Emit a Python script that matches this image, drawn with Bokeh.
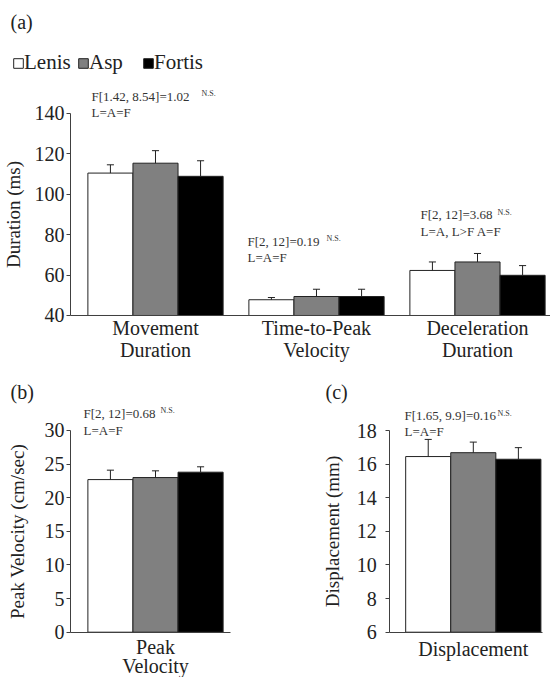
from bokeh.plotting import figure
from bokeh.layouts import column, row
from bokeh.models import Label, Legend, LegendItem, FixedTicker
from bokeh.embed import file_html
from bokeh.resources import INLINE

FONT = "Liberation Serif"
INK = "#222222"
ANN = "#333333"
AXIS = "#404040"

# ---------------- data ----------------
conditions = ["Lenis", "Asp", "Fortis"]
cond_colors = ["#ffffff", "#808080", "#000000"]

groups_a = ["Movement\nDuration", "Time-to-Peak\nVelocity", "Deceleration\nDuration"]
lenis_a = [110.5, 47.8, 62.3]
asp_a = [115.4, 49.4, 66.5]
fortis_a = [108.9, 49.4, 59.9]
lenis_a_err = [4.1, 1.1, 4.2]
asp_a_err = [6.2, 3.6, 4.2]
fortis_a_err = [7.7, 3.6, 4.8]
ticks_a = [40, 60, 80, 100, 120, 140]

groups_b = ["Peak\nVelocity"]
lenis_b = [22.7]
asp_b = [23.0]
fortis_b = [23.8]
lenis_b_err = [1.4]
asp_b_err = [1.0]
fortis_b_err = [0.8]
ticks_b = [0, 5, 10, 15, 20, 25, 30]

groups_c = ["Displacement"]
lenis_c = [16.45]
asp_c = [16.68]
fortis_c = [16.29]
lenis_c_err = [1.02]
asp_c_err = [0.63]
fortis_c_err = [0.69]
ticks_c = [6, 8, 10, 12, 14, 16, 18]

BAR_W = 0.28
OFFSETS = [-BAR_W, 0.0, BAR_W]
CAP = 0.022


def make_panel(width, height, xr, yr, axis_x, x_end, ticks, ylabel, groups, series, errs,
               ylabel_standoff=8, tick_standoff=2, cat_line_height=1.0, cat_standoff=0):
    p = figure(width=width, height=height, x_range=xr, y_range=yr,
               output_backend="svg", toolbar_location=None,
               min_border_left=0, min_border_right=0, min_border_top=0, min_border_bottom=0)
    p.title.visible = False
    p.outline_line_color = None
    p.grid.grid_line_color = None
    p.background_fill_color = "white"
    p.border_fill_color = "white"

    base = ticks[0]
    renderers = []
    for i, (vals, err) in enumerate(zip(series, errs)):
        xs = [g + OFFSETS[i] for g in range(len(groups))]
        r = p.vbar(x=xs, top=vals, bottom=base, width=BAR_W,
                   fill_color=cond_colors[i], line_color=INK, line_width=1)
        renderers.append(r)
        tops = [v + e for v, e in zip(vals, err)]
        p.segment(x0=xs, y0=vals, x1=xs, y1=tops, line_color=INK, line_width=1)
        p.segment(x0=[x - CAP for x in xs], y0=tops, x1=[x + CAP for x in xs], y1=tops,
                  line_color=INK, line_width=1)

    # y axis drawn at the left edge of the bar area
    ya = p.yaxis[0]
    ya.fixed_location = axis_x
    ya.bounds = (ticks[0], ticks[-1])
    ya.ticker = FixedTicker(ticks=ticks)
    ya.minor_tick_line_color = None
    ya.major_tick_in = 0
    ya.major_tick_out = 4
    ya.axis_line_color = AXIS
    ya.major_tick_line_color = AXIS
    ya.major_label_text_font = FONT
    ya.major_label_text_font_size = "20px"
    ya.major_label_text_color = INK
    ya.major_label_standoff = tick_standoff
    ya.axis_label = ylabel
    ya.axis_label_text_font = FONT
    ya.axis_label_text_font_size = "19px"
    ya.axis_label_text_font_style = "normal"
    ya.axis_label_text_color = INK
    ya.axis_label_standoff = ylabel_standoff

    # category axis along the baseline
    xa = p.xaxis[0]
    xa.fixed_location = base
    xa.bounds = (axis_x, x_end)
    xa.ticker = FixedTicker(ticks=list(range(len(groups))))
    xa.major_label_overrides = {i: g for i, g in enumerate(groups)}
    xa.major_tick_line_color = None
    xa.minor_tick_line_color = None
    xa.axis_line_color = AXIS
    xa.major_label_text_font = FONT
    xa.major_label_text_font_size = "20px"
    xa.major_label_text_color = INK
    xa.major_label_text_line_height = cat_line_height
    xa.major_label_standoff = cat_standoff
    return p, renderers


def label(p, ref_left, ref_bottom, x, y, text, size="13px", color=ANN):
    # x, y: left edge and vertical centre in page pixels
    p.add_layout(Label(x=x - ref_left, y=ref_bottom - y, x_units="screen", y_units="screen",
                       text=text, text_font=FONT, text_font_size=size, text_align="left",
                       text_color=color, text_baseline="middle"))


def stat(p, rl, rb, x, y, ftext, ns_x, ltext, gap=16):
    label(p, rl, rb, x, y, ftext)
    label(p, rl, rb, ns_x, y - 2.5, "N.S.", size="8px")
    label(p, rl, rb, x, y + gap, ltext)


# ---------------- panel (a) ----------------
RLa, RBa = 0, 370
pa, rend = make_panel(550, 370, (-0.9627, 2.4534), (12.77, 195.94), -0.528, 2.4534, ticks_a,
                      "Duration (ms)", groups_a, [lenis_a, asp_a, fortis_a],
                      [lenis_a_err, asp_a_err, fortis_a_err], ylabel_standoff=8,
                      cat_line_height=1.0, cat_standoff=-4)
label(pa, RLa, RBa, 10, 21, "(a)", size="20px", color=INK)
stat(pa, RLa, RBa, 91, 95.5, "F[1.42, 8.54]=1.02", 201, "L=A=F")
stat(pa, RLa, RBa, 247, 240.5, "F[2, 12]=0.19", 326, "L=A=F")
stat(pa, RLa, RBa, 420, 214, "F[2, 12]=3.68", 497, "L=A, L>F A=F", gap=17)
pa.add_layout(Legend(items=[LegendItem(label=c, renderers=[r]) for c, r in zip(conditions, rend)],
                     location=(12, 295), orientation="horizontal",
                     glyph_width=12, glyph_height=12, label_standoff=0, spacing=3,
                     label_width=50, padding=0, margin=0, border_line_color=None,
                     background_fill_alpha=0, label_text_font=FONT,
                     label_text_font_size="21px", label_text_color=INK))

# ---------------- panel (b) ----------------
RLb, RBb = 0, 677
pb, _ = make_panel(275, 307, (-0.9627, 0.7453), (-6.738, 38.924), -0.528, 0.466, ticks_b,
                   "Peak Velocity (cm/sec)", groups_b, [lenis_b, asp_b, fortis_b],
                   [lenis_b_err, asp_b_err, fortis_b_err], ylabel_standoff=14,
                   cat_line_height=0.87, cat_standoff=-2)
label(pb, RLb, RBb, 10, 391, "(b)", size="20px", color=INK)
stat(pb, RLb, RBb, 83, 412.5, "F[2, 12]=0.68", 160, "L=A=F", gap=17)

# ---------------- panel (c) ----------------
RLc, RBc = 275, 677
pc, _ = make_panel(275, 307, (-1.2286, 0.4795), (3.305, 21.570), -0.5186, 0.4298, ticks_c,
                   "Displacement (mm)", groups_c, [lenis_c, asp_c, fortis_c],
                   [lenis_c_err, asp_c_err, fortis_c_err], ylabel_standoff=11,
                   tick_standoff=9, cat_line_height=1.1, cat_standoff=0)
label(pc, RLc, RBc, 325, 391, "(c)", size="20px", color=INK)
stat(pc, RLc, RBc, 404, 415, "F[1.65, 9.9]=0.16", 497, "L=A=F")

layout = column(pa, row(pb, pc, spacing=0), spacing=0)
open("out.html", "w").write(file_html(layout, INLINE))
